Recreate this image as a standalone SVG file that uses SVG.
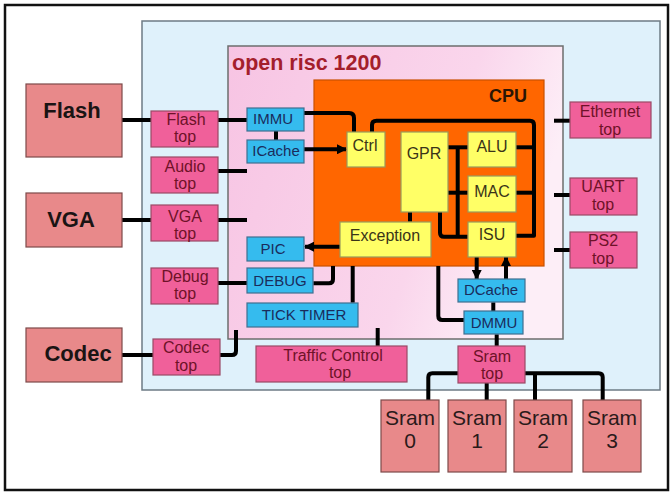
<svg xmlns="http://www.w3.org/2000/svg" width="671" height="494" viewBox="0 0 671 494">
<style>
text{font-family:"Liberation Sans",Arial,sans-serif;}
.ext rect{fill:#e8898a;stroke:#7d4a4a;stroke-width:1.2;}
.ext text{font-size:22px;font-weight:bold;fill:#1a1414;text-anchor:middle;}
.sram rect{fill:#e8898a;stroke:#7d4a4a;stroke-width:1.2;}
.sram text{font-size:21px;fill:#2a1a1a;text-anchor:middle;}
.top rect{fill:#f0609a;stroke:#9a4a66;stroke-width:1.2;}
.top text{font-size:16px;fill:#6e1228;text-anchor:middle;}
.blu rect{fill:#35bbee;stroke:#3f6f8f;stroke-width:1.2;}
.blu text{font-size:15px;fill:#1a2c5c;text-anchor:middle;}
.yel rect{fill:#ffff66;stroke:#9a9a5a;stroke-width:1.2;}
.yel text{font-size:16px;fill:#3a3418;text-anchor:middle;}
.wire path{fill:none;stroke:#000;stroke-width:4;stroke-linejoin:round;}
</style>
<defs>
<linearGradient id="pinkg" x1="0" y1="0" x2="1" y2="0.3">
<stop offset="0" stop-color="#f7c4e3"/>
<stop offset="0.7" stop-color="#fad6ec"/>
<stop offset="1" stop-color="#fdeef7"/>
</linearGradient>
<marker id="arr" markerUnits="userSpaceOnUse" markerWidth="10" markerHeight="10" viewBox="0 0 10 10" refX="9" refY="5" orient="auto">
<path d="M0,0 L10,5 L0,10 z" fill="#000"/>
</marker>
</defs>
<rect x="0" y="0" width="671" height="494" fill="#fff"/>
<rect x="5" y="5" width="663" height="485" fill="#fff" stroke="#111" stroke-width="2.5"/>
<g id="soc">
<rect x="142" y="21" width="518" height="369" fill="#dff1fb" stroke="#6d7b85" stroke-width="1.5"/>
</g>
<g id="openrisc">
<rect x="228" y="46" width="335" height="293" fill="url(#pinkg)" stroke="#6d6d6d" stroke-width="1.5"/>
<text x="232" y="70" font-size="21.5" font-weight="bold" fill="#a41e2c">open risc 1200</text>
</g>
<g id="cpu">
<rect x="314" y="80" width="230" height="186" fill="#ff6600" stroke="#c85000" stroke-width="1.2"/>
<text x="527" y="102" font-size="18" font-weight="bold" fill="#2a1505" text-anchor="end">CPU</text>
</g>

<g class="wire" id="connectors">
<path d="M122,120 H151"/>
<path d="M218,120 H247"/>
<path d="M218,171 H247"/>
<path d="M122,220 H151"/>
<path d="M218,220 H247"/>
<path d="M218,283 H247"/>
<path d="M122,355 H153"/>
<path d="M220,355 H232 Q236,355 236,351 V330"/>
<path d="M276,131 V140"/>
<path d="M304,149.3 H346" marker-end="url(#arr)"/>
<path d="M304,113 H349 Q354,113 354,118 V132"/>
<path d="M372,132 V125 Q372,120.7 376.5,120.7 H530 Q534,120.7 534,125 V235.7 H515.7"/>
<path d="M515.7,147.3 H534"/>
<path d="M515.7,192.7 H534"/>
<path d="M448,147.3 H467.7"/>
<path d="M448,192.7 H467.7"/>
<path d="M457.7,147.3 V236.7"/>
<path d="M440,211.7 V232.7 Q440,236.7 444,236.7 H467.7"/>
<path d="M410,211.7 V221.7"/>
<path d="M340,246.7 H305" marker-end="url(#arr)"/>
<path d="M313.3,283.3 H329 Q333,283.3 333,279.3 V266"/>
<path d="M352.7,266 V302.7"/>
<path d="M438.3,266 V316 Q438.3,320 442.3,320 H464.3"/>
<path d="M476.7,256.7 V279" marker-end="url(#arr)"/>
<path d="M506,279 V257" marker-end="url(#arr)"/>
<path d="M493.3,302.3 V311"/>
<path d="M496.7,334.3 V346"/>
<path d="M377.7,328 V346"/>
<path d="M458.3,373.3 H432.3 Q428.3,373.3 428.3,377.3 V400"/>
<path d="M486.7,382.7 V400"/>
<path d="M525,373.3 H598.7 Q602.7,373.3 602.7,377.3 V400"/>
<path d="M535,373.3 V400"/>
<path d="M554,120.7 H570"/>
<path d="M554,195 H570"/>
<path d="M554,250 H570"/>
</g>

<g id="flash" class="ext"><rect x="26" y="84" width="96" height="73"/><text x="72" y="118">Flash</text></g>
<g id="vga" class="ext"><rect x="26" y="193" width="96" height="54"/><text x="71" y="227">VGA</text></g>
<g id="codec" class="ext"><rect x="26" y="328" width="96" height="54"/><text x="78" y="361">Codec</text></g>

<g id="flash_top" class="top"><rect x="151" y="111" width="67" height="36"/><text x="186" y="125">Flash</text><text x="185" y="142">top</text></g>
<g id="audio_top" class="top"><rect x="151" y="157" width="67" height="36"/><text x="185" y="172">Audio</text><text x="185" y="189">top</text></g>
<g id="vga_top" class="top"><rect x="151" y="205" width="67" height="36"/><text x="185" y="222">VGA</text><text x="185" y="239">top</text></g>
<g id="debug_top" class="top"><rect x="151" y="268" width="67" height="36"/><text x="185" y="282">Debug</text><text x="185" y="299">top</text></g>
<g id="codec_top" class="top"><rect x="153" y="339" width="67" height="36"/><text x="186" y="353">Codec</text><text x="186" y="371">top</text></g>
<g id="traffic_top" class="top"><rect x="256" y="346" width="151" height="36"/><text x="333" y="361">Traffic Control</text><text x="340" y="378">top</text></g>
<g id="sram_top" class="top"><rect x="458" y="346" width="67" height="37"/><text x="492" y="362">Sram</text><text x="492" y="379">top</text></g>
<g id="ethernet_top" class="top"><rect x="570" y="102" width="81" height="36"/><text x="610" y="117" font-size="17">Ethernet</text><text x="610" y="135">top</text></g>
<g id="uart_top" class="top"><rect x="570" y="178" width="67" height="37"/><text x="603" y="192">UART</text><text x="603" y="210">top</text></g>
<g id="ps2_top" class="top"><rect x="570" y="232" width="67" height="36"/><text x="603" y="246">PS2</text><text x="603" y="264">top</text></g>

<g id="immu" class="blu"><rect x="247" y="108" width="57" height="23"/><text x="273" y="124">IMMU</text></g>
<g id="icache" class="blu"><rect x="247" y="140" width="57" height="23"/><text x="276" y="156">ICache</text></g>
<g id="pic" class="blu"><rect x="247" y="237" width="57" height="24"/><text x="273" y="254">PIC</text></g>
<g id="debug" class="blu"><rect x="247" y="268" width="66" height="25"/><text x="280" y="286">DEBUG</text></g>
<g id="tick_timer" class="blu"><rect x="247" y="303" width="111" height="24"/><text x="304" y="320">TICK TIMER</text></g>
<g id="dcache" class="blu"><rect x="458" y="279" width="67" height="23"/><text x="491" y="295">DCache</text></g>
<g id="dmmu" class="blu"><rect x="464" y="311" width="59" height="23"/><text x="494" y="328">DMMU</text></g>

<g id="ctrl" class="yel"><rect x="347" y="132" width="38" height="35"/><text x="365" y="151">Ctrl</text></g>
<g id="gpr" class="yel"><rect x="401" y="132" width="47" height="80"/><text x="424" y="159">GPR</text></g>
<g id="alu" class="yel"><rect x="468" y="132" width="48" height="35"/><text x="492" y="152">ALU</text></g>
<g id="mac" class="yel"><rect x="468" y="176" width="48" height="36"/><text x="492" y="197">MAC</text></g>
<g id="isu" class="yel"><rect x="468" y="222" width="48" height="35"/><text x="492" y="240">ISU</text></g>
<g id="exception" class="yel"><rect x="340" y="222" width="91" height="35"/><text x="385" y="241">Exception</text></g>

<g id="sram0" class="sram"><rect x="381" y="400" width="58" height="72"/><text x="410" y="425">Sram</text><text x="410" y="448">0</text></g>
<g id="sram1" class="sram"><rect x="448" y="400" width="58" height="72"/><text x="477" y="425">Sram</text><text x="477" y="448">1</text></g>
<g id="sram2" class="sram"><rect x="514" y="400" width="58" height="72"/><text x="543" y="425">Sram</text><text x="543" y="448">2</text></g>
<g id="sram3" class="sram"><rect x="583" y="400" width="58" height="72"/><text x="612" y="425">Sram</text><text x="612" y="448">3</text></g>
</svg>
